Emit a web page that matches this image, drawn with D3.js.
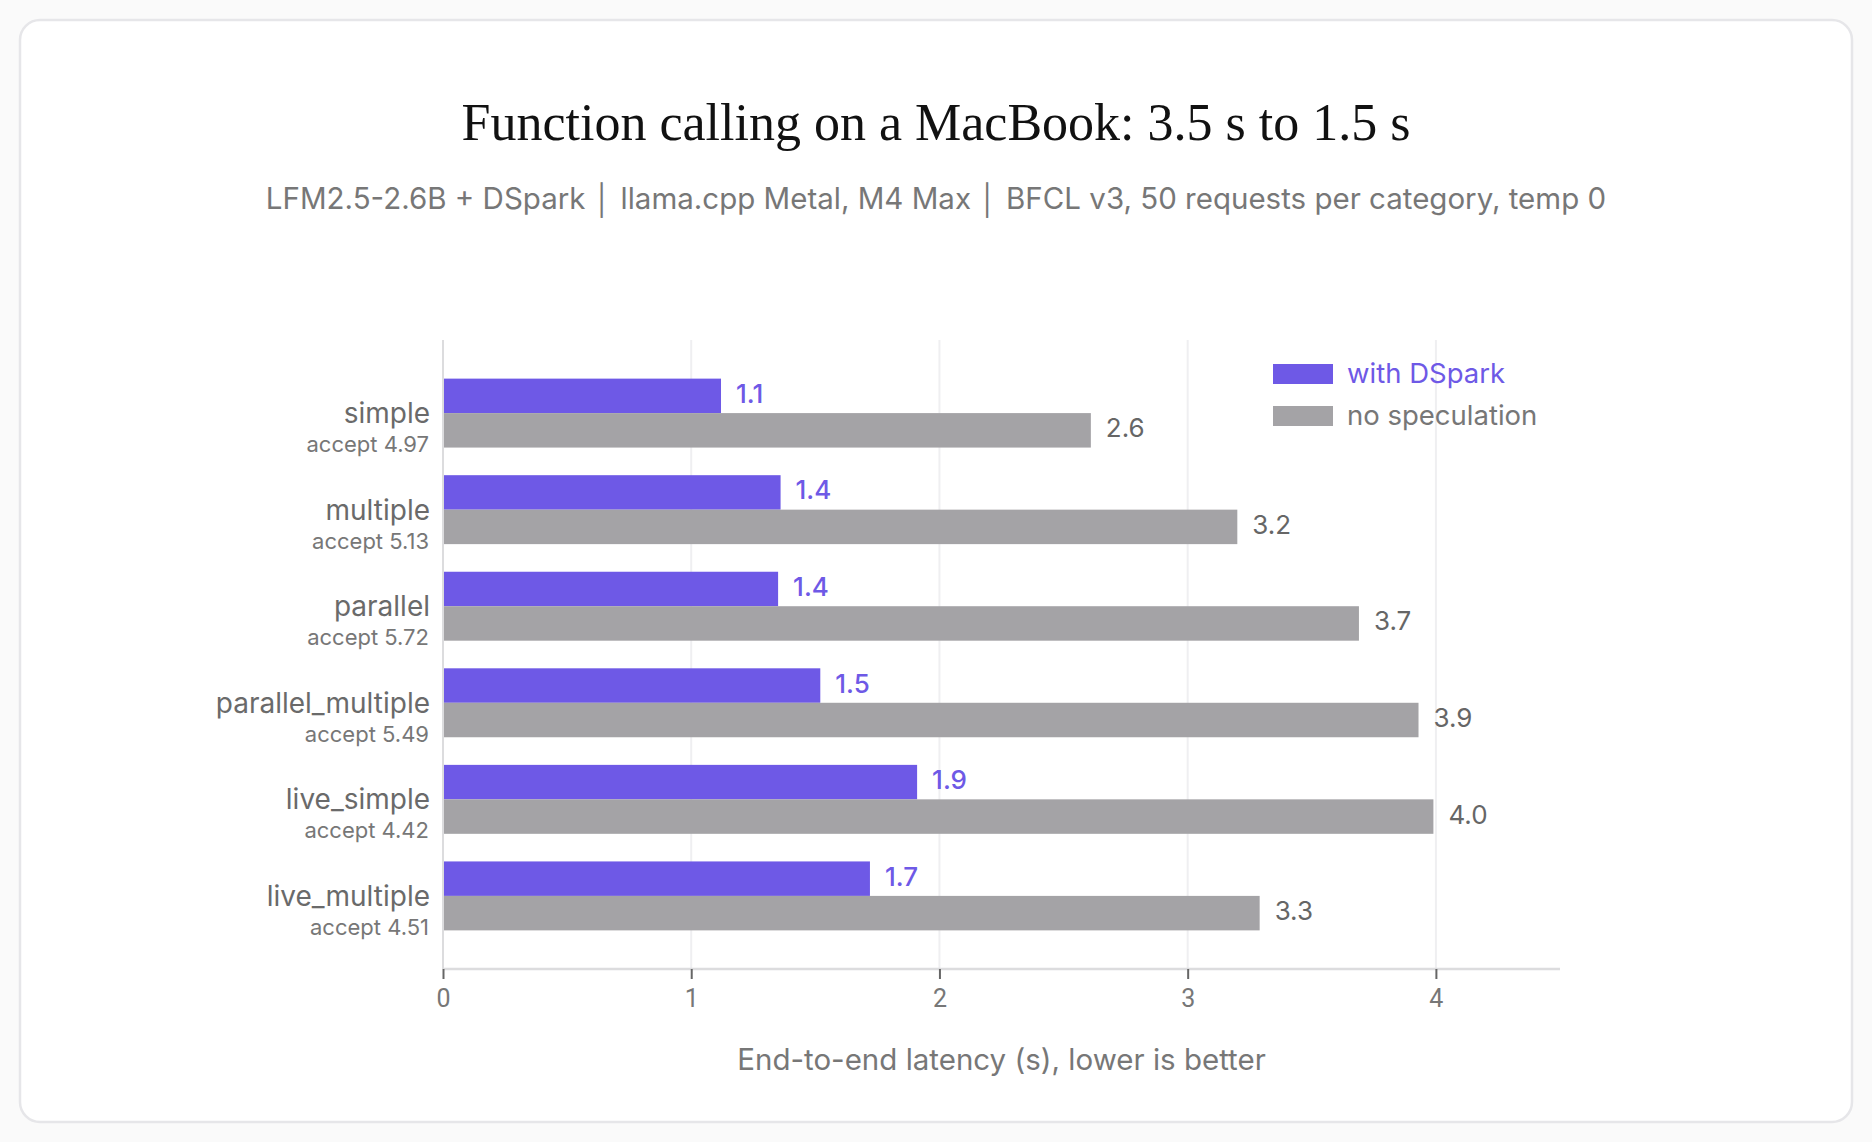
<!DOCTYPE html>
<html>
<head>
<meta charset="utf-8">
<script src="https://cdn.jsdelivr.net/npm/d3@7"></script>
<style>
  html, body { margin: 0; padding: 0; background: #fafafa; }
  svg { display: block; }
</style>
</head>
<body>
<div id="chart"></div>
<script>
// chart values
var categories = ["simple", "multiple", "parallel", "parallel_multiple", "live_simple", "live_multiple"];
var acceptRates = [4.97, 5.13, 5.72, 5.49, 4.42, 4.51];
var withDSpark = [1.12, 1.36, 1.35, 1.52, 1.91, 1.72];
var noSpeculation = [2.61, 3.20, 3.69, 3.93, 3.99, 3.29];
var seriesNames = ["with DSpark", "no speculation"];
var xTicks = [0, 1, 2, 3, 4];

var width = 1872, height = 1142;
var margin = {top: 340, right: 312, bottom: 173, left: 443};
var purple = "#6e59e6", grey = "#a4a3a6";
var sans = "Inter, 'Noto Sans', sans-serif";
var tickFont = "Roboto, 'Noto Sans', sans-serif";

var svg = d3.select("#chart").append("svg")
    .attr("width", width)
    .attr("height", height);

// card
svg.append("rect")
    .attr("x", 20).attr("y", 20)
    .attr("width", width - 40).attr("height", height - 40)
    .attr("rx", 20)
    .attr("fill", "#ffffff")
    .attr("stroke", "#e6e6e9")
    .attr("stroke-width", 2.5);

svg.append("text")
    .attr("x", width / 2).attr("y", 140)
    .attr("text-anchor", "middle")
    .style("font-family", "'Liberation Serif', 'DejaVu Serif', serif")
    .style("font-size", "52px")
    .style("fill", "#111")
    .text("Function calling on a MacBook: 3.5 s to 1.5 s");

svg.append("text")
    .attr("x", width / 2).attr("y", 209)
    .attr("text-anchor", "middle")
    .style("font-family", sans)
    .style("font-size", "29.5px")
    .style("fill", "#777")
    .text("LFM2.5-2.6B + DSpark \u2502 llama.cpp Metal, M4 Max \u2502 BFCL v3, 50 requests per category, temp 0");

var x = d3.scaleLinear()
    .domain([0, 4.5])
    .range([margin.left, width - margin.right]);

var y = d3.scaleBand()
    .domain(categories)
    .range([margin.top, height - margin.bottom])
    .paddingInner(0.286)
    .paddingOuter(0.4);

var ySub = d3.scaleBand()
    .domain(seriesNames)
    .range([0, y.bandwidth()]);

// gridlines
svg.append("g").selectAll("line")
    .data(xTicks.filter(function(d){ return d > 0; }))
    .enter().append("line")
    .attr("x1", function(d){ return x(d); })
    .attr("x2", function(d){ return x(d); })
    .attr("y1", margin.top)
    .attr("y2", height - margin.bottom)
    .attr("stroke", "#efeff1")
    .attr("stroke-width", 2);

var rows = categories.map(function(c, i){
    return {cat: c, accept: acceptRates[i], values: [withDSpark[i], noSpeculation[i]]};
});

var group = svg.append("g").selectAll("g")
    .data(rows)
    .enter().append("g")
    .attr("transform", function(d){ return "translate(0," + y(d.cat) + ")"; });

group.selectAll("rect")
    .data(function(d){ return d.values.map(function(v, k){ return {name: seriesNames[k], value: v}; }); })
    .enter().append("rect")
    .attr("x", x(0))
    .attr("y", function(d){ return ySub(d.name); })
    .attr("width", function(d){ return x(d.value) - x(0); })
    .attr("height", ySub.bandwidth())
    .attr("fill", function(d){ return d.name == seriesNames[0] ? purple : grey; });

group.selectAll("text.val")
    .data(function(d){ return d.values.map(function(v, k){ return {name: seriesNames[k], value: v}; }); })
    .enter().append("text")
    .attr("class", "val")
    .attr("x", function(d){ return x(d.value) + 15; })
    .attr("y", function(d){ return ySub(d.name) + ySub.bandwidth() / 2 + 7; })
    .style("font-family", "Inter, sans-serif")
    .style("font-size", "26px")
    .style("font-weight", function(d){ return d.name == seriesNames[0] ? 500 : 400; })
    .style("fill", function(d){ return d.name == seriesNames[0] ? purple : "#666"; })
    .text(function(d){ return d3.format(".1f")(d.value); });

// category labels
group.append("text")
    .attr("x", margin.left - 13)
    .attr("y", y.bandwidth() / 2 + 10)
    .attr("text-anchor", "end")
    .style("font-family", sans)
    .style("font-size", "28px")
    .style("fill", "#6a6a6a")
    .text(function(d){ return d.cat; });

group.append("text")
    .attr("x", margin.left - 14)
    .attr("y", y.bandwidth() / 2 + 39)
    .attr("text-anchor", "end")
    .style("font-family", sans)
    .style("font-size", "22px")
    .style("fill", "#777")
    .text(function(d){ return "accept " + d3.format(".2f")(d.accept); });

// axes lines
svg.append("line")
    .attr("x1", x(0)).attr("x2", x(0))
    .attr("y1", margin.top).attr("y2", height - margin.bottom)
    .attr("stroke", "#dcdcde").attr("stroke-width", 2);

var xAxis = svg.append("g")
    .attr("transform", "translate(0," + (height - margin.bottom) + ")")
    .call(d3.axisBottom(x).tickValues(xTicks).tickSize(10).tickPadding(10).tickFormat(d3.format("d")));

xAxis.select(".domain").attr("stroke", "#dcdcde").attr("stroke-width", 2.5)
    .attr("d", "M" + x(0) + ",0H" + x(4.5));
xAxis.selectAll(".tick line").attr("stroke", "#666").attr("stroke-width", 2);
xAxis.selectAll(".tick text")
    .style("font-family", tickFont)
    .style("font-size", "25px")
    .style("fill", "#777");

svg.append("text")
    .attr("x", (x(0) + x(4.5)) / 2)
    .attr("y", 1070)
    .attr("text-anchor", "middle")
    .style("font-family", sans)
    .style("font-size", "29.5px")
    .style("fill", "#777")
    .text("End-to-end latency (s), lower is better");

// legend
var legend = svg.append("g").selectAll("g")
    .data(seriesNames)
    .enter().append("g")
    .attr("transform", function(d, i){ return "translate(1273," + (364 + i * 42) + ")"; });

legend.append("rect")
    .attr("width", 60).attr("height", 20)
    .attr("fill", function(d, i){ return i == 0 ? purple : grey; });

legend.append("text")
    .attr("x", 74).attr("y", 19)
    .style("font-family", "Inter, sans-serif")
    .style("font-size", "27.5px")
    .style("fill", function(d, i){ return i == 0 ? purple : "#777"; })
    .text(function(d){ return d; });
</script>
</body>
</html>
